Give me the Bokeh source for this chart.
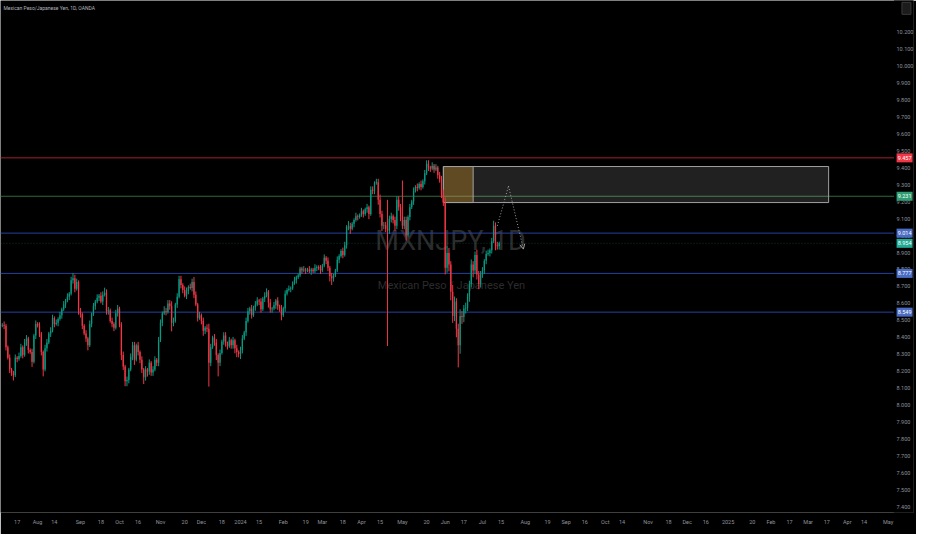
import pandas as pd
from bokeh.plotting import figure
from bokeh.core.properties import value
from bokeh.models import (Range1d, FixedTicker, PrintfTickFormatter, Span, Label,
                          Arrow, OpenHead)
from bokeh.embed import file_html
from bokeh.resources import INLINE

# MXNJPY daily (OANDA): 5 Jul 2023 -> 12 Jul 2024
first_open = 8.47
closes = [
    8.474, 8.469, 8.343, 8.280, 8.211, 8.194, 8.177, 8.280, 8.274, 8.291,
    8.343, 8.297, 8.371, 8.394, 8.326, 8.314, 8.257, 8.411, 8.480, 8.469,
    8.423, 8.314, 8.211, 8.337, 8.371, 8.423, 8.440, 8.514, 8.480, 8.486,
    8.509, 8.531, 8.566, 8.594, 8.617, 8.640, 8.657, 8.737, 8.749, 8.686,
    8.726, 8.554, 8.537, 8.469, 8.423, 8.394, 8.354, 8.480, 8.537, 8.583,
    8.611, 8.634, 8.646, 8.611, 8.651, 8.663, 8.554, 8.560, 8.497, 8.480,
    8.457, 8.543, 8.571, 8.480, 8.297, 8.229, 8.143, 8.150, 8.211, 8.286,
    8.354, 8.269, 8.354, 8.314, 8.269, 8.211, 8.166, 8.211, 8.200, 8.251,
    8.194, 8.211, 8.269, 8.251, 8.383, 8.486, 8.543, 8.554, 8.550, 8.600,
    8.583, 8.486, 8.497, 8.594, 8.640, 8.743, 8.709, 8.680, 8.646, 8.674,
    8.697, 8.691, 8.726, 8.651, 8.594, 8.514, 8.531, 8.497, 8.440, 8.457,
    8.451, 8.251, 8.343, 8.400, 8.371, 8.297, 8.251, 8.309, 8.377, 8.411,
    8.366, 8.349, 8.383, 8.354, 8.383, 8.337, 8.314, 8.303, 8.326, 8.394,
    8.429, 8.497, 8.554, 8.571, 8.531, 8.577, 8.594, 8.617, 8.611, 8.566,
    8.629, 8.646, 8.669, 8.606, 8.566, 8.570, 8.589, 8.617, 8.583, 8.571,
    8.531, 8.571, 8.657, 8.680, 8.686, 8.690, 8.720, 8.737, 8.754, 8.766,
    8.806, 8.794, 8.800, 8.794, 8.800, 8.789, 8.800, 8.789, 8.811, 8.815,
    8.806, 8.794, 8.823, 8.869, 8.851, 8.811, 8.760, 8.749, 8.766, 8.794,
    8.857, 8.880, 8.909, 8.886, 8.943, 9.051, 9.055, 9.040, 9.069, 9.091,
    9.114, 9.109, 9.120, 9.143, 9.126, 9.154, 9.166, 9.126, 9.269, 9.263,
    9.309, 9.314, 9.211, 9.126, 9.057, 9.060, 9.040, 9.030, 9.097, 9.114,
    9.091, 9.057, 9.211, 9.166, 9.114, 9.057, 9.091, 9.000, 9.109, 9.166,
    9.200, 9.263, 9.286, 9.280, 9.303, 9.286, 9.320, 9.366, 9.423, 9.400,
    9.394, 9.411, 9.389, 9.400, 9.354, 9.331, 9.240, 9.194, 8.811, 8.897,
    8.829, 8.669, 8.526, 8.611, 8.451, 8.354, 8.526, 8.520, 8.571, 8.575,
    8.640, 8.714, 8.829, 8.794, 8.886, 8.771, 8.714, 8.771, 8.794, 8.851,
    8.891, 8.897, 8.914, 8.966, 9.057, 8.943, 8.937, 8.954,
]
upper_wick = [
    0.01, 0.02, 0.01, 0.01, 0.02, 0.01, 0.01, 0.02, 0.01, 0.02,
    0.02, 0.01, 0.02, 0.02, 0.01, 0.01, 0.02, 0.01, 0.02, 0.01,
    0.02, 0.01, 0.01, 0.02, 0.02, 0.01, 0.02, 0.02, 0.01, 0.02,
    0.01, 0.02, 0.01, 0.02, 0.01, 0.02, 0.01, 0.02, 0.03, 0.02,
    0.02, 0.01, 0.02, 0.01, 0.01, 0.02, 0.01, 0.02, 0.01, 0.02,
    0.01, 0.02, 0.01, 0.02, 0.02, 0.03, 0.02, 0.02, 0.01, 0.02,
    0.01, 0.02, 0.02, 0.01, 0.01, 0.02, 0.01, 0.02, 0.01, 0.02,
    0.02, 0.02, 0.01, 0.02, 0.01, 0.02, 0.01, 0.02, 0.01, 0.02,
    0.01, 0.02, 0.02, 0.01, 0.02, 0.02, 0.01, 0.03, 0.02, 0.02,
    0.02, 0.03, 0.02, 0.01, 0.02, 0.02, 0.02, 0.01, 0.02, 0.02,
    0.01, 0.02, 0.02, 0.03, 0.02, 0.01, 0.02, 0.01, 0.02, 0.01,
    0.02, 0.03, 0.02, 0.01, 0.02, 0.02, 0.01, 0.02, 0.01, 0.02,
    0.02, 0.01, 0.02, 0.01, 0.02, 0.01, 0.02, 0.01, 0.02, 0.02,
    0.01, 0.02, 0.02, 0.01, 0.02, 0.01, 0.02, 0.02, 0.01, 0.02,
    0.01, 0.02, 0.02, 0.01, 0.02, 0.01, 0.02, 0.01, 0.02, 0.01,
    0.02, 0.01, 0.02, 0.01, 0.02, 0.01, 0.01, 0.02, 0.01, 0.01,
    0.01, 0.01, 0.02, 0.01, 0.01, 0.02, 0.01, 0.01, 0.02, 0.01,
    0.01, 0.02, 0.01, 0.02, 0.01, 0.02, 0.01, 0.02, 0.01, 0.01,
    0.02, 0.01, 0.01, 0.02, 0.02, 0.01, 0.03, 0.02, 0.01, 0.01,
    0.02, 0.01, 0.01, 0.02, 0.01, 0.01, 0.02, 0.01, 0.02, 0.02,
    0.01, 0.02, 0.02, 0.03, 0.02, 0.02, 0.02, 0.17, 0.02, 0.02,
    0.01, 0.02, 0.02, 0.02, 0.02, 0.21, 0.02, 0.02, 0.01, 0.02,
    0.01, 0.02, 0.01, 0.02, 0.01, 0.02, 0.01, 0.02, 0.02, 0.02,
    0.01, 0.02, 0.01, 0.02, 0.01, 0.02, 0.02, 0.03, 0.03, 0.04,
    0.03, 0.02, 0.04, 0.03, 0.02, 0.03, 0.04, 0.03, 0.02, 0.03,
    0.02, 0.02, 0.03, 0.02, 0.02, 0.03, 0.02, 0.02, 0.02, 0.01,
    0.02, 0.02, 0.01, 0.02, 0.03, 0.02, 0.02, 0.01,
]
lower_wick = [
    0.01, 0.02, 0.02, 0.01, 0.02, 0.02, 0.03, 0.01, 0.02, 0.01,
    0.01, 0.02, 0.01, 0.02, 0.02, 0.01, 0.03, 0.01, 0.02, 0.01,
    0.02, 0.02, 0.04, 0.01, 0.02, 0.01, 0.02, 0.01, 0.02, 0.01,
    0.02, 0.01, 0.02, 0.01, 0.02, 0.01, 0.02, 0.01, 0.02, 0.02,
    0.01, 0.02, 0.02, 0.02, 0.01, 0.02, 0.03, 0.01, 0.02, 0.01,
    0.02, 0.01, 0.02, 0.01, 0.02, 0.01, 0.02, 0.02, 0.01, 0.02,
    0.02, 0.01, 0.02, 0.02, 0.03, 0.02, 0.03, 0.03, 0.02, 0.01,
    0.02, 0.03, 0.01, 0.02, 0.02, 0.02, 0.04, 0.02, 0.03, 0.02,
    0.02, 0.02, 0.01, 0.02, 0.02, 0.01, 0.02, 0.01, 0.02, 0.01,
    0.02, 0.05, 0.02, 0.01, 0.02, 0.01, 0.02, 0.02, 0.01, 0.02,
    0.02, 0.01, 0.02, 0.02, 0.01, 0.02, 0.01, 0.02, 0.03, 0.02,
    0.02, 0.14, 0.02, 0.01, 0.02, 0.03, 0.08, 0.02, 0.01, 0.02,
    0.02, 0.02, 0.01, 0.02, 0.02, 0.03, 0.03, 0.02, 0.03, 0.02,
    0.01, 0.02, 0.01, 0.02, 0.02, 0.01, 0.02, 0.01, 0.02, 0.02,
    0.01, 0.02, 0.01, 0.03, 0.02, 0.02, 0.01, 0.02, 0.02, 0.02,
    0.03, 0.01, 0.02, 0.01, 0.01, 0.02, 0.01, 0.01, 0.02, 0.01,
    0.01, 0.02, 0.01, 0.02, 0.01, 0.01, 0.02, 0.01, 0.01, 0.02,
    0.01, 0.02, 0.01, 0.01, 0.02, 0.02, 0.03, 0.04, 0.02, 0.01,
    0.01, 0.02, 0.01, 0.02, 0.01, 0.02, 0.02, 0.03, 0.01, 0.02,
    0.01, 0.02, 0.01, 0.01, 0.02, 0.01, 0.02, 0.03, 0.01, 0.02,
    0.02, 0.01, 0.03, 0.02, 0.03, 0.02, 0.02, 0.68, 0.02, 0.02,
    0.02, 0.03, 0.02, 0.02, 0.03, 0.02, 0.02, 0.03, 0.01, 0.02,
    0.01, 0.02, 0.01, 0.02, 0.01, 0.02, 0.01, 0.02, 0.01, 0.02,
    0.02, 0.01, 0.02, 0.01, 0.02, 0.02, 0.02, 0.02, 0.04, 0.03,
    0.04, 0.05, 0.04, 0.03, 0.05, 0.13, 0.05, 0.04, 0.03, 0.03,
    0.02, 0.03, 0.02, 0.04, 0.02, 0.03, 0.03, 0.02, 0.02, 0.02,
    0.02, 0.01, 0.02, 0.02, 0.01, 0.03, 0.02, 0.02,
]

# time axis labels (TradingView style)
tick_dates = ["2023-07-17", "2023-08-01", "2023-08-14", "2023-09-01", "2023-09-18",
              "2023-10-02", "2023-10-16", "2023-11-01", "2023-11-20", "2023-12-01",
              "2023-12-18", "2024-01-01", "2024-01-15", "2024-02-01", "2024-02-19",
              "2024-03-01", "2024-03-18", "2024-04-01", "2024-04-15", "2024-05-01",
              "2024-05-20", "2024-06-03", "2024-06-17", "2024-07-01", "2024-07-15",
              "2024-08-01", "2024-08-19", "2024-09-02", "2024-09-16", "2024-10-01",
              "2024-10-14", "2024-11-01", "2024-11-18", "2024-12-02", "2024-12-16",
              "2025-01-01", "2025-01-20", "2025-02-03", "2025-02-17", "2025-03-03",
              "2025-03-17", "2025-04-01", "2025-04-14", "2025-05-01"]
tick_labels = ["17", "Aug", "14", "Sep", "18", "Oct", "16", "Nov", "20", "Dec",
               "18", "2024", "15", "Feb", "19", "Mar", "18", "Apr", "15", "May",
               "20", "Jun", "17", "Jul", "15", "Aug", "19", "Sep", "16", "Oct",
               "14", "Nov", "18", "Dec", "16", "2025", "20", "Feb", "17", "Mar",
               "17", "Apr", "14", "May"]
price_ticks = [7.4, 7.5, 7.6, 7.7, 7.8, 7.9, 8.0, 8.1, 8.2, 8.3, 8.4, 8.5, 8.6, 8.7,
               8.8, 8.9, 9.0, 9.1, 9.2, 9.3, 9.4, 9.5, 9.6, 9.7, 9.8, 9.9, 10.0,
               10.1, 10.2]

# drawings on the chart
level_prices = [9.457, 9.231, 9.014, 8.777, 8.549]
level_line_colors = ["#a3202c", "#2f6a3a", "#2440a0", "#2440a0", "#2440a0"]
level_tag_colors = ["#f23645", "#2e9e72", "#4a6cc4", "#4a6cc4", "#4a6cc4"]
box_dates = ["2024-05-31", "2025-03-18"]
box_prices = [9.194, 9.406]
box_mark_date = "2024-06-24"
path_dates = ["2024-07-11", "2024-07-19", "2024-07-31"]
path_prices = [9.057, 9.291, 8.92]

UP = "#089981"
DOWN = "#f23645"
BG = "#000000"
FONT = "Roboto"

days = pd.bdate_range("2023-07-05", "2025-06-30")
pos = {d.strftime("%Y-%m-%d"): i for i, d in enumerate(days)}

n = len(closes)
xs = list(range(n))
# fx daily bars open where the previous one closed
opens = [first_open] + closes[:-1]
highs = [max(o, c) + w for o, c, w in zip(opens, closes, upper_wick)]
lows = [min(o, c) - w for o, c, w in zip(opens, closes, lower_wick)]
colors = [UP if c >= o else DOWN for o, c in zip(opens, closes)]

W, H = 916, 534
X0, X1 = -0.95, 489.6          # bar units across the whole canvas width
Y0, Y1 = 7.370, 10.383
SCALE_X = 479.1                 # where the price scale strip starts (bar units)
TAG_X = 484.8

p = figure(width=W, height=H, output_backend="svg", toolbar_location=None,
           x_range=Range1d(X0, X1), y_range=Range1d(Y0, Y1),
           y_axis_location="right", min_border_left=0, min_border_top=0,
           min_border_right=0, min_border_bottom=22)
p.background_fill_color = BG
p.border_fill_color = BG
p.outline_line_color = None
p.grid.visible = False

# watermark
p.add_layout(Label(x=450, y=272, x_units="screen", y_units="screen", text="MXNJPY, 1D",
                   text_font=FONT, text_font_size="27px", text_color="#2c2c2c",
                   text_align="center", text_baseline="middle", level="underlay"))
p.add_layout(Label(x=451, y=227, x_units="screen", y_units="screen",
                   text="Mexican Peso / Japanese Yen", text_font=FONT,
                   text_font_size="11px", text_color="#2c2c2c",
                   text_align="center", text_baseline="middle", level="underlay"))

# horizontal levels
for lv, lc in zip(level_prices, level_line_colors):
    p.add_layout(Span(location=lv, dimension="width", line_color=lc, line_width=1,
                      level="underlay"))
last = closes[-1]
p.add_layout(Span(location=last, dimension="width", line_color=UP, line_alpha=0.35,
                  line_width=1, line_dash="1 2", level="underlay"))

# box + projection
b0, b1, bm = pos[box_dates[0]], pos[box_dates[1]], pos[box_mark_date]
p.quad(left=[b0], right=[b1], bottom=[box_prices[0]], top=[box_prices[1]],
       fill_color="#ffffff", fill_alpha=0.13, line_color="#a0a0a0", line_width=1)
p.quad(left=[b0], right=[bm], bottom=[box_prices[0]], top=[box_prices[1]],
       fill_color="#c08a2a", fill_alpha=0.4, line_color="#a0a0a0", line_width=1)

# candles
p.segment(x0=xs, y0=highs, x1=xs, y1=lows, color=colors, line_width=1)
p.vbar(x=xs, width=0.7, top=closes, bottom=opens, fill_color=colors, line_color=None)

px = [pos[d] for d in path_dates]
p.line(px[:2], path_prices[:2], line_color="#a0a0a0", line_width=1, line_dash="1 2")
p.add_layout(Arrow(end=OpenHead(size=5, line_color="#a0a0a0", line_width=1),
                   x_start=px[1], y_start=path_prices[1], x_end=px[2], y_end=path_prices[2],
                   line_color="#a0a0a0", line_width=1, line_dash="1 2"))

# price scale strip on the right, like TradingView
p.quad(left=[SCALE_X], right=[X1 + 5], bottom=[Y0 - 1], top=[Y1 + 1],
       fill_color=BG, line_color=None)

# axes
p.yaxis.ticker = FixedTicker(ticks=price_ticks)
p.yaxis.formatter = PrintfTickFormatter(format="%.3f")
p.xaxis.ticker = FixedTicker(ticks=[pos[d] for d in tick_dates])
p.xaxis.major_label_overrides = {pos[d]: t for d, t in zip(tick_dates, tick_labels)}
for ax in (p.xaxis, p.yaxis):
    ax.axis_line_color = None
    ax.major_tick_line_color = None
    ax.minor_tick_line_color = None
    ax.major_tick_out = 0
    ax.major_tick_in = 0
    ax.minor_tick_out = 0
    ax.major_label_text_color = "#8f939c"
    ax.major_label_text_font = FONT
    ax.major_label_text_font_size = "5.5px"
p.yaxis.major_label_standoff = -17
p.xaxis.major_label_standoff = 6

# price tags on the scale
tag_prices = level_prices + [last]
tag_colors = level_tag_colors + ["#22ab94"]
p.rect(x=[TAG_X] * len(tag_prices), y=tag_prices, width=16, height=9,
       width_units="screen", height_units="screen", fill_color=tag_colors,
       line_color=None, level="overlay")
p.text(x=[TAG_X] * len(tag_prices), y=tag_prices, text=[f"{v:.3f}" for v in tag_prices],
       text_font=value(FONT), text_font_size="5.5px", text_color="#ffffff",
       text_align="center", text_baseline="middle", level="overlay")

# small settings button at the top of the scale
p.rect(x=[TAG_X + 1], y=[10.337], width=9, height=12, width_units="screen",
       height_units="screen", fill_color="#1c1c1c", line_color="#3a3a3a",
       line_width=1, level="overlay")

p.add_layout(Label(x=3, y=508, x_units="screen", y_units="screen",
                   text="Mexican Peso/Japanese Yen, 1D, OANDA", text_font=FONT,
                   text_font_size="5px", text_color="#b2b5be",
                   text_align="left", text_baseline="top"))

open("out.html", "w").write(file_html(p, INLINE))
